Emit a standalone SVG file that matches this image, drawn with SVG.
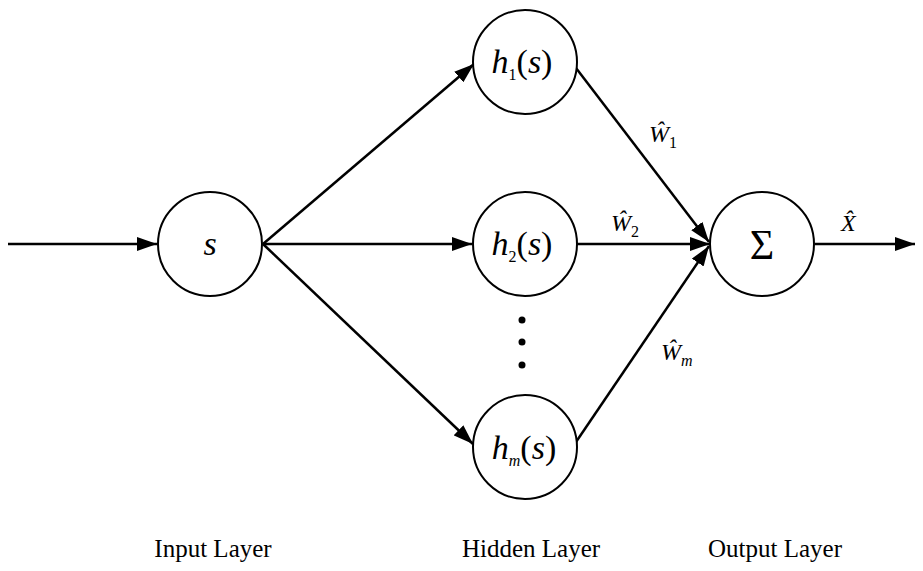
<svg xmlns="http://www.w3.org/2000/svg" width="923" height="571" viewBox="0 0 923 571">
<style>
.node{fill:#fff;stroke:#000;stroke-width:2}
.edge{stroke:#000;stroke-width:2.5;fill:none}
text{font-family:"Liberation Serif","Times New Roman","DejaVu Serif",serif;fill:#000}
.it{font-style:italic}
.big{font-size:34px}
.lbl{font-size:25px}
.w{font-size:24px}
.sub{font-size:16px}
</style>
<defs>
<marker id="ah" viewBox="0 0 20 14" refX="20" refY="7" markerWidth="20" markerHeight="14" markerUnits="userSpaceOnUse" orient="auto">
<path d="M0,0 L20,7 L0,14 Z" fill="#000"/>
</marker>
</defs>
<g id="connectors">
<line class="edge" x1="8" y1="244" x2="157" y2="244" marker-end="url(#ah)"/>
<line class="edge" x1="263" y1="244" x2="474" y2="64" marker-end="url(#ah)"/>
<line class="edge" x1="263" y1="244" x2="472" y2="244" marker-end="url(#ah)"/>
<line class="edge" x1="263" y1="244" x2="473" y2="444" marker-end="url(#ah)"/>
<line class="edge" x1="576" y1="68" x2="709" y2="242" marker-end="url(#ah)"/>
<line class="edge" x1="577" y1="244" x2="710" y2="244" marker-end="url(#ah)"/>
<line class="edge" x1="576" y1="442" x2="709" y2="246" marker-end="url(#ah)"/>
<line class="edge" x1="815" y1="244" x2="915" y2="244" marker-end="url(#ah)"/>
</g>
<g id="input">
<circle class="node" cx="210" cy="244" r="52"/>
<text class="it big" x="210" y="255" text-anchor="middle">s</text>
</g>
<g id="h1">
<circle class="node" cx="525" cy="62" r="52"/>
<text class="big" x="522" y="73" text-anchor="middle"><tspan class="it">h</tspan><tspan class="sub" dy="7">1</tspan><tspan dy="-7">(</tspan><tspan class="it">s</tspan>)</text>
</g>
<g id="h2">
<circle class="node" cx="525" cy="244" r="52"/>
<text class="big" x="522" y="255" text-anchor="middle"><tspan class="it">h</tspan><tspan class="sub" dy="7">2</tspan><tspan dy="-7">(</tspan><tspan class="it">s</tspan>)</text>
</g>
<g id="dots">
<circle cx="522" cy="320" r="3.5" fill="#000"/>
<circle cx="522" cy="342" r="3.5" fill="#000"/>
<circle cx="522" cy="365" r="3.5" fill="#000"/>
</g>
<g id="hm">
<circle class="node" cx="525" cy="447" r="52"/>
<text class="big" x="524" y="459" text-anchor="middle"><tspan class="it">h</tspan><tspan class="sub it" dy="7">m</tspan><tspan dy="-7">(</tspan><tspan class="it">s</tspan>)</text>
</g>
<g id="output">
<circle class="node" cx="762" cy="244" r="52"/>
<text font-size="42" x="762" y="259" text-anchor="middle">Σ</text>
</g>
<g id="weights">
<text class="it w" x="649" y="142">Ŵ<tspan class="sub" font-style="normal" dy="6">1</tspan></text>
<text class="it w" x="611" y="231">Ŵ<tspan class="sub" font-style="normal" dy="6">2</tspan></text>
<text class="it w" x="661" y="360">Ŵ<tspan class="sub" dy="6">m</tspan></text>
<text class="it w" x="841" y="231">X̂</text>
</g>
<g id="labels">
<text class="lbl" x="213" y="557" text-anchor="middle">Input Layer</text>
<text class="lbl" x="531" y="557" text-anchor="middle">Hidden Layer</text>
<text class="lbl" x="775" y="557" text-anchor="middle">Output Layer</text>
</g>
</svg>
